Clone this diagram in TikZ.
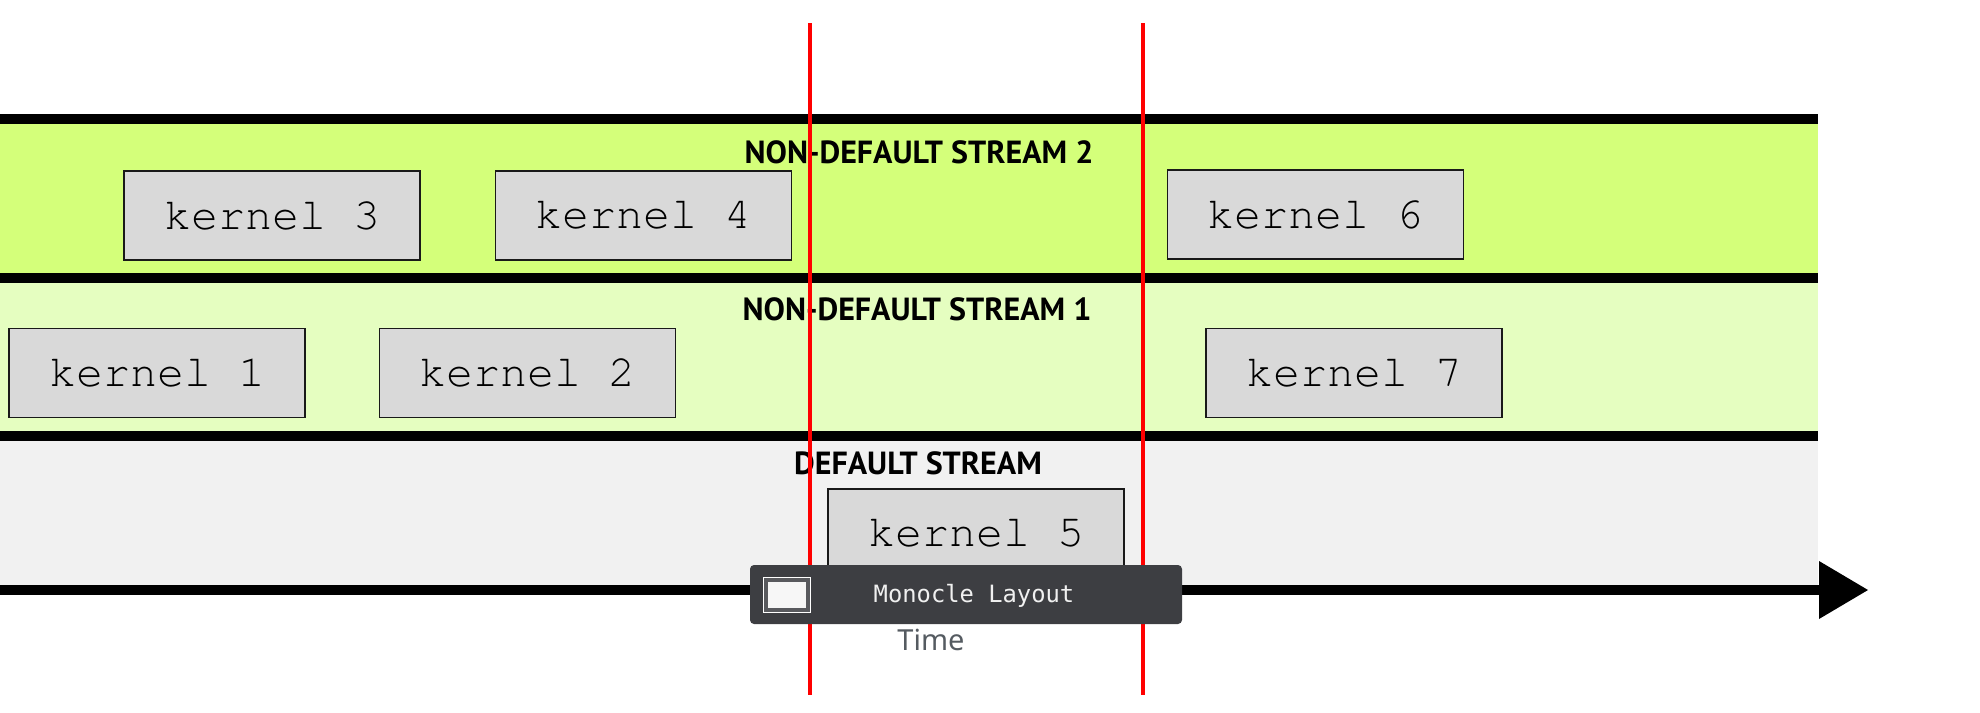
\documentclass[tikz,border=0pt]{standalone}
\usepackage{fontspec}
\usepackage{tikz}
\usetikzlibrary{arrows.meta, positioning}

\newfontfamily\kernelfont{TeX Gyre Cursor}
\newfontfamily\titlefont{PT Sans}
\newfontfamily\popupfont{DejaVu Sans Mono}
\newfontfamily\timefont{Noto Sans}

\definecolor{streamtwo}{HTML}{D4FF7A}
\definecolor{streamone}{HTML}{E5FEC0}
\definecolor{defaultgray}{HTML}{F1F1F1}
\definecolor{kernelgray}{HTML}{D9D9D9}
\definecolor{popupgray}{HTML}{3D3E42}
\definecolor{icongray}{HTML}{595A5E}
\definecolor{timegray}{HTML}{555B61}

\begin{document}
\begin{tikzpicture}[x=1pt, y=-1pt,
			kernel/.style={draw=black!90, line width=1.6pt, fill=kernelgray,
				minimum width=296pt, minimum height=89pt, inner sep=0pt,
				font=\kernelfont\fontsize{45}{50}\selectfont},
			title/.style={inner sep=0pt, font=\titlefont\bfseries\fontsize{32}{36}\selectfont},
			divider/.style={line width=10pt},
			marker/.style={red, line width=3.5pt},
			node distance=74pt]
		\useasboundingbox (0,0) rectangle (1980,712);
		% bands
		\fill[streamtwo] (0,124) rectangle (1818,273);
		\fill[streamone] (0,282) rectangle (1818,431);
		\fill[defaultgray] (0,441) rectangle (1818,585);
		\foreach \y in {119, 277.5, 436}
			\draw[divider] (0,\y) -- (1818,\y);
		\node[title] (s2) at (919,152) {NON-DEFAULT STREAM 2};
		\node[title] (s1) at (917,309) {NON-DEFAULT STREAM 1};
		\node[title] (s0) at (918,463) {DEFAULT STREAM};
		% kernels
		\node[kernel]               (k3) at (272,215.5) {kernel 3};
		\node[kernel, right=of k3]  (k4) {kernel 4};
		\node[kernel]               (k6) at (1315.5,214.5) {kernel 6};
		\node[kernel]               (k1) at (157,373) {kernel 1};
		\node[kernel, right=73pt of k1] (k2) {kernel 2};
		\node[kernel]               (k7) at (1354,373) {kernel 7};
		\node[kernel]               (k5) at (976,533.5) {kernel 5};
		% time axis
		\coordinate (t0) at (0,590);
		\coordinate (t1) at (1868,590);
		\draw[line width=10pt, -{Triangle[length=49pt, width=58pt, line width=0pt]}] (t0) -- (t1);
		\foreach \x in {810, 1143}
			\draw[marker] (\x,23) -- (\x,695);
		% tooltip
		\node[fill=popupgray, rounded corners=4pt, minimum width=432pt, minimum height=59pt] (popup) at (966,594.5) {};
		\node[fill=white, minimum width=48pt, minimum height=36pt, inner sep=0pt] (icon) at (787,595) {};
		\node[fill=white!97!black, draw=icongray, line width=4pt, minimum width=42pt, minimum height=30pt, inner sep=0pt] (iconin) at (icon) {};
		\node[text=white!94!black, font=\popupfont\fontsize{23.8}{28}\selectfont] (layout) at (974,596) {Monocle Layout};
		\node[text=timegray, font=\timefont\fontsize{29}{34}\selectfont] (time) at (931,640) {Time};
	\end{tikzpicture}
\end{document}
